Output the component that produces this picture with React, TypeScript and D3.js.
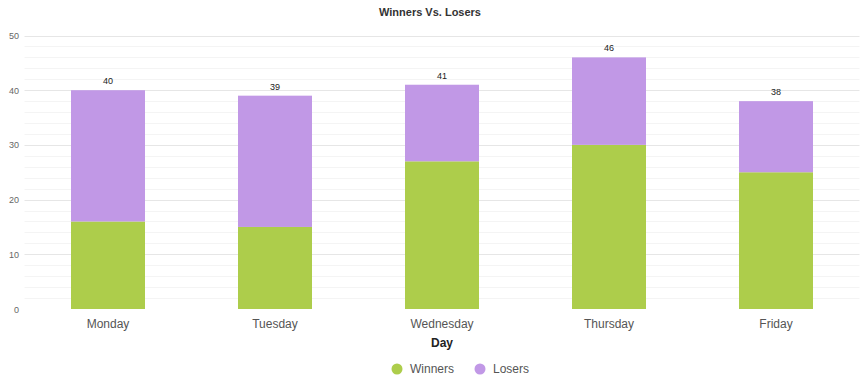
import React from "react";
import * as d3 from "d3";

const days = ["Monday", "Tuesday", "Wednesday", "Thursday", "Friday"];
const winners = [16, 15, 27, 30, 25];
const losers = [24, 24, 14, 16, 13];
const yTicks = [0, 10, 20, 30, 40, 50];
const seriesNames = ["Winners", "Losers"];
const seriesColors = ["#adcd4b", "#c198e6"];

const W = 860, H = 386;
const left = 24.5, right = 859.5, top = 35.5, bottom = 309;

export default function App() {
  const x = d3.scaleBand<string>().domain(days).range([left, right]).padding(0);
  const y = d3.scaleLinear().domain([0, 50]).range([bottom, top]);
  const barW = x.bandwidth() * 0.443;
  const minor = d3.range(0, 51, 2).filter((v) => v % 10 !== 0);
  const stack = d3.stack<any>().keys(["w", "l"])(days.map((d, i) => ({ d, w: winners[i], l: losers[i] })));
  const font = "Arial, 'Liberation Sans', sans-serif";
  return (
    <svg width={W} height={H} style={{ position: "absolute", left: 0, top: 0, fontFamily: font }}>
      <rect width={W} height={H} fill="#fff" />
      <text x={430} y={16} textAnchor="middle" fontSize={11} fontWeight="bold" fill="#333">Winners Vs. Losers</text>
      {minor.map((v) => (
        <line key={"m" + v} x1={left} x2={right} y1={Math.round(y(v)) + 0.5} y2={Math.round(y(v)) + 0.5} stroke="#f4f4f4" strokeWidth={1} />
      ))}
      {yTicks.map((v) => (
        <g key={v}>
          {v > 0 && <line x1={left} x2={right} y1={Math.round(y(v)) + 0.5} y2={Math.round(y(v)) + 0.5} stroke="#e6e6e6" strokeWidth={1} />}
          <text x={19} y={y(v) + 3.5} textAnchor="end" fontSize={9} fill="#666">{v}</text>
        </g>
      ))}
      {stack.map((s, si) =>
        s.map((p, i) => (
          <rect key={si + "-" + i} x={x(days[i])! + (x.bandwidth() - barW) / 2} width={barW}
            y={y(p[1])} height={y(p[0]) - y(p[1])} fill={seriesColors[si]} />
        ))
      )}
      {days.map((d, i) => (
        <text key={"t" + d} x={x(d)! + x.bandwidth() / 2} y={y(winners[i] + losers[i]) - 6}
          textAnchor="middle" fontSize={9} fill="#222">{winners[i] + losers[i]}</text>
      ))}
      {days.map((d) => (
        <text key={"x" + d} x={x(d)! + x.bandwidth() / 2} y={328} textAnchor="middle" fontSize={12} fill="#555">{d}</text>
      ))}
      <text x={442} y={347} textAnchor="middle" fontSize={12} fontWeight="bold" fill="#222">Day</text>
      {seriesNames.map((n, i) => (
        <g key={n} transform={`translate(${397 + i * 83},369)`}>
          <circle r={5.5} fill={seriesColors[i]} />
          <text x={13} y={4} fontSize={12} fill="#555">{n}</text>
        </g>
      ))}
    </svg>
  );
}
